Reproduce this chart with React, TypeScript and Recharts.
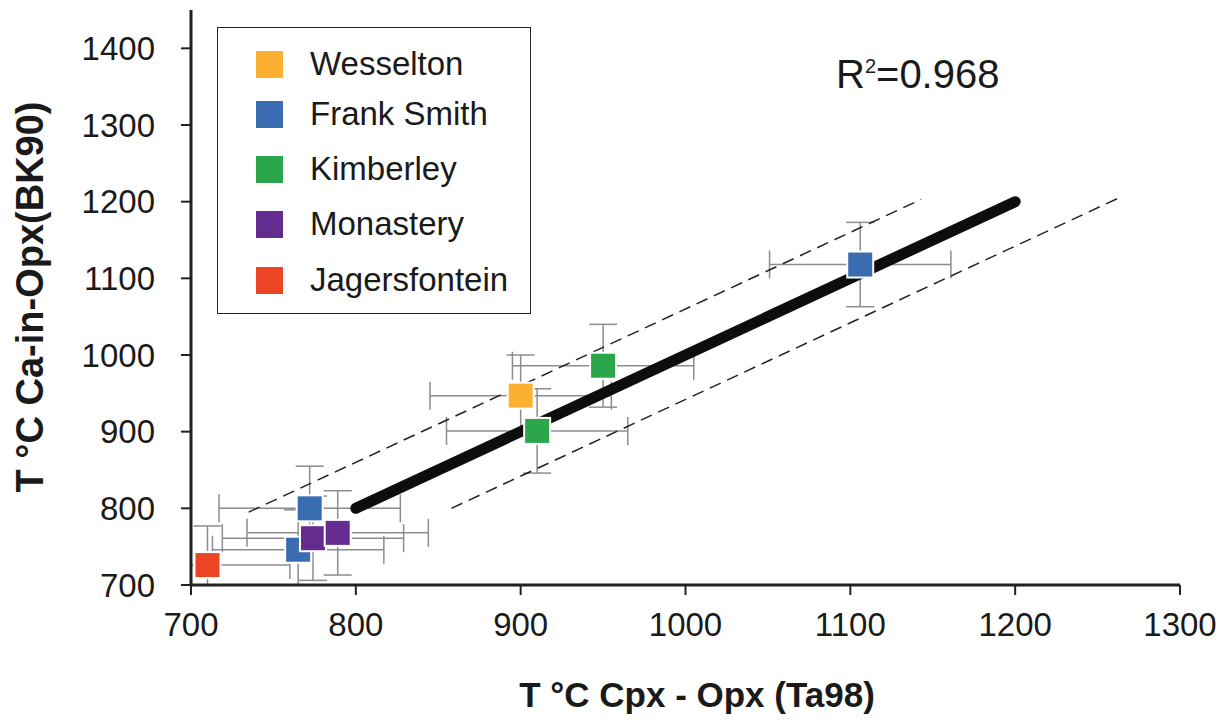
import React from "react";
import {
  ScatterChart,
  Scatter,
  XAxis,
  YAxis,
  ErrorBar,
  Legend,
  Label,
} from "recharts";

const FONT = "'Liberation Sans', Arial, Helvetica, sans-serif";

const X_DOMAIN = [700, 1300];
const Y_DOMAIN = [700, 1450];
const X_TICKS = [700, 800, 900, 1000, 1100, 1200, 1300];
const Y_TICKS = [700, 800, 900, 1000, 1100, 1200, 1300, 1400];

const PIPES = ["Wesselton", "Frank Smith", "Kimberley", "Monastery", "Jagersfontein"];
const PIPE_COLORS = ["#fbb031", "#3a6cb1", "#2ca64b", "#652c8f", "#ec4526"];

// T (Ta98) on x, T (BK90) on y, and the ± errors, one list per pipe
const WESSELTON_X = [900];
const WESSELTON_Y = [947];
const WESSELTON_EX = [55];
const WESSELTON_EY = [53];

const FRANK_SMITH_X = [772, 765, 1106];
const FRANK_SMITH_Y = [800, 746, 1118];
const FRANK_SMITH_EX = [55, 52, 55];
const FRANK_SMITH_EY = [55, 52, 55];

const KIMBERLEY_X = [950, 910];
const KIMBERLEY_Y = [986, 901];
const KIMBERLEY_EX = [55, 55];
const KIMBERLEY_EY = [54, 55];

const MONASTERY_X = [774, 789];
const MONASTERY_Y = [761, 768];
const MONASTERY_EX = [55, 55];
const MONASTERY_EY = [55, 55];

const JAGERSFONTEIN_X = [710];
const JAGERSFONTEIN_Y = [726];
const JAGERSFONTEIN_EX = [50];
const JAGERSFONTEIN_EY = [51];

// regression line and its envelope
const FIT_X = [800, 1200];
const FIT_Y = [800, 1200];
const UPPER_X = [735, 1143];
const UPPER_Y = [795, 1203];
const LOWER_X = [858, 1265];
const LOWER_Y = [800, 1207];

const R2 = "0.968";

// error bars are cut at the axes, like the plot frame does in the figure
const toRows = (xs: number[], ys: number[], ex: number[] = [], ey: number[] = []) =>
  xs.map((x, i) => ({
    x,
    y: ys[i],
    ex: ex[i] == null ? undefined : [Math.min(ex[i], x - X_DOMAIN[0]), ex[i]],
    ey: ey[i] == null ? undefined : [Math.min(ey[i], ys[i] - Y_DOMAIN[0]), ey[i]],
  }));

const SERIES = [
  toRows(WESSELTON_X, WESSELTON_Y, WESSELTON_EX, WESSELTON_EY),
  toRows(FRANK_SMITH_X, FRANK_SMITH_Y, FRANK_SMITH_EX, FRANK_SMITH_EY),
  toRows(KIMBERLEY_X, KIMBERLEY_Y, KIMBERLEY_EX, KIMBERLEY_EY),
  toRows(MONASTERY_X, MONASTERY_Y, MONASTERY_EX, MONASTERY_EY),
  toRows(JAGERSFONTEIN_X, JAGERSFONTEIN_Y, JAGERSFONTEIN_EX, JAGERSFONTEIN_EY),
];

const LEGEND_ROW_TOP = [22, 72, 127, 182, 238];

const noShape = () => <g />;

const square = (color: string) => (p: any) => (
  <rect
    x={p.cx - 13}
    y={p.cy - 13}
    width={26}
    height={26}
    fill={color}
    stroke="#ffffff"
    strokeWidth={2}
  />
);

const renderLegend = () => (
  <div
    style={{
      boxSizing: "border-box",
      width: 314,
      height: 287,
      border: "1.5px solid #222",
      background: "#fff",
      position: "relative",
      fontFamily: FONT,
    }}
  >
    {PIPES.map((name, i) => (
      <div
        key={name}
        style={{
          position: "absolute",
          left: 38,
          top: LEGEND_ROW_TOP[i],
          height: 28,
          display: "flex",
          alignItems: "center",
        }}
      >
        <span
          style={{ width: 27, height: 27, background: PIPE_COLORS[i], display: "inline-block" }}
        />
        <span style={{ marginLeft: 27, fontSize: 33, color: "#1a1a1a", whiteSpace: "nowrap" }}>
          {name}
        </span>
      </div>
    ))}
  </div>
);

const XTitle = () => (
  <text
    x={697}
    y={707}
    textAnchor="middle"
    fontFamily={FONT}
    fontWeight="bold"
    fontSize={35}
    fill="#1a1a1a"
  >
    T °C Cpx - Opx (Ta98)
  </text>
);

const YTitle = () => (
  <text
    x={0}
    y={0}
    transform="translate(43, 297) rotate(-90)"
    textAnchor="middle"
    fontFamily={FONT}
    fontWeight="bold"
    fontSize={38}
    fill="#1a1a1a"
  >
    T °C Ca-in-Opx(BK90)
  </text>
);

export default function App() {
  const tick = { fontSize: 33, fill: "#1a1a1a", fontFamily: FONT };
  return (
    <div
      style={{
        position: "absolute",
        left: 0,
        top: 0,
        width: 1228,
        height: 722,
        background: "#fff",
      }}
    >
      <ScatterChart
        width={1228}
        height={722}
        margin={{ top: 10, right: 48, bottom: 77, left: 91 }}
      >
        <XAxis
          type="number"
          dataKey="x"
          domain={X_DOMAIN}
          ticks={X_TICKS}
          allowDataOverflow
          height={60}
          tickSize={10}
          tickMargin={18}
          tick={tick}
          axisLine={{ stroke: "#222", strokeWidth: 3 }}
          tickLine={{ stroke: "#222", strokeWidth: 2 }}
        >
          <Label content={XTitle} />
        </XAxis>
        <YAxis
          type="number"
          dataKey="y"
          domain={Y_DOMAIN}
          ticks={Y_TICKS}
          allowDataOverflow
          width={100}
          tickSize={10}
          tickMargin={26}
          tick={tick}
          axisLine={{ stroke: "#222", strokeWidth: 3 }}
          tickLine={{ stroke: "#222", strokeWidth: 2 }}
        >
          <Label content={YTitle} />
        </YAxis>
        <XAxis
          xAxisId="top"
          orientation="top"
          type="number"
          domain={X_DOMAIN}
          allowDataOverflow
          height={0}
          tick={false}
          tickLine={false}
          axisLine={{ stroke: "#7a7a7a", strokeWidth: 3 }}
        />
        <YAxis
          yAxisId="right"
          orientation="right"
          type="number"
          domain={Y_DOMAIN}
          allowDataOverflow
          width={0}
          tick={false}
          tickLine={false}
          axisLine={{ stroke: "#7a7a7a", strokeWidth: 3 }}
        />

        {/* error bars first so the fit line sits over them */}
        {SERIES.map((rows, i) => (
          <Scatter
            key={"err-" + PIPES[i]}
            data={rows}
            fill={PIPE_COLORS[i]}
            shape={noShape}
            legendType="none"
            isAnimationActive={false}
          >
            <ErrorBar
              dataKey="ex"
              direction="x"
              width={14}
              stroke="#8c8c8c"
              strokeWidth={1.5}
              isAnimationActive={false}
            />
            <ErrorBar
              dataKey="ey"
              direction="y"
              width={14}
              stroke="#8c8c8c"
              strokeWidth={1.5}
              isAnimationActive={false}
            />
          </Scatter>
        ))}

        <Scatter
          data={toRows(UPPER_X, UPPER_Y)}
          fill="#222"
          line={{ stroke: "#222", strokeWidth: 1.5, strokeDasharray: "12 7" }}
          shape={noShape}
          legendType="none"
          isAnimationActive={false}
        />
        <Scatter
          data={toRows(LOWER_X, LOWER_Y)}
          fill="#222"
          line={{ stroke: "#222", strokeWidth: 1.5, strokeDasharray: "12 7" }}
          shape={noShape}
          legendType="none"
          isAnimationActive={false}
        />
        <Scatter
          data={toRows(FIT_X, FIT_Y)}
          fill="#0d0d0d"
          line={{ stroke: "#0d0d0d", strokeWidth: 11, strokeLinecap: "round" }}
          shape={noShape}
          legendType="none"
          isAnimationActive={false}
        />

        {SERIES.map((rows, i) => (
          <Scatter
            key={PIPES[i]}
            name={PIPES[i]}
            data={rows}
            fill={PIPE_COLORS[i]}
            shape={square(PIPE_COLORS[i])}
            isAnimationActive={false}
          />
        ))}

        <Legend
          layout="horizontal"
          align="center"
          verticalAlign="middle"
          content={renderLegend}
          wrapperStyle={{ left: 217, top: 27, width: 314, height: 287 }}
        />
      </ScatterChart>
      <div
        style={{
          position: "absolute",
          left: 836,
          top: 52,
          fontFamily: FONT,
          fontSize: 40,
          color: "#1a1a1a",
          lineHeight: "44px",
          whiteSpace: "nowrap",
        }}
      >
        R
        <span style={{ fontSize: 20, position: "relative", top: -15 }}>2</span>={R2}
      </div>
    </div>
  );
}
